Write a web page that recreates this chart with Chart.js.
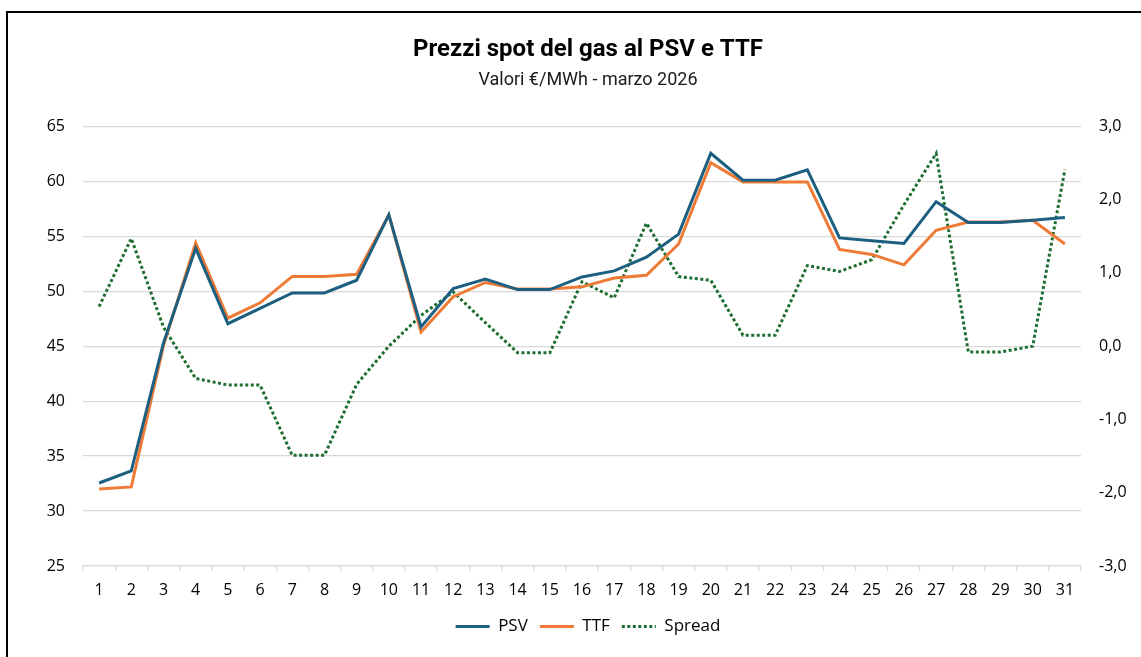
<!DOCTYPE html>
<html>
<head>
<meta charset="utf-8">
<script src="https://cdn.jsdelivr.net/npm/chart.js@4.4.1/dist/chart.umd.min.js"></script>
<style>
  body { margin: 0; background: #fff; overflow: hidden; }
  #wrap { position: relative; width: 1141px; height: 657px; }
  #frame { position: absolute; left: 6px; top: 11px; width: 1300px; height: 800px; border: 2px solid #000; pointer-events: none; }
</style>
</head>
<body>
<div id="wrap">
  <canvas id="gasChart" width="1141" height="657"></canvas>
  <div id="frame"></div>
</div>
<script>
// giorni di marzo 2026
const days = ['1','2','3','4','5','6','7','8','9','10','11','12','13','14','15','16','17','18','19','20','21','22','23','24','25','26','27','28','29','30','31'];

const psv = [32.55, 33.65, 45.3, 53.9, 47.05, 48.45, 49.85, 49.85, 51.0, 56.95, 46.75, 50.25, 51.1, 50.15, 50.15, 51.3, 51.85, 53.1, 55.2, 62.55, 60.1, 60.1, 61.05, 54.85, 54.6, 54.35, 58.15, 56.25, 56.25, 56.45, 56.7];
const ttf = [32.0, 32.2, 45.05, 54.4, 47.55, 48.95, 51.35, 51.35, 51.55, 56.95, 46.3, 49.5, 50.8, 50.2, 50.2, 50.4, 51.2, 51.45, 54.3, 61.7, 59.95, 59.95, 59.95, 53.8, 53.35, 52.4, 55.55, 56.3, 56.3, 56.45, 54.3];
const spread = [0.54, 1.47, 0.26, -0.44, -0.53, -0.53, -1.49, -1.49, -0.52, 0.0, 0.42, 0.74, 0.32, -0.09, -0.09, 0.88, 0.66, 1.68, 0.95, 0.9, 0.15, 0.15, 1.1, 1.02, 1.18, 1.93, 2.63, -0.08, -0.08, 0.0, 2.41];

const gridColor = '#d9d9d9';
const tickFont = { family: "'Open Sans', sans-serif", size: 16 };

const ctx = document.getElementById('gasChart').getContext('2d');
new Chart(ctx, {
    type: 'line',
    data: {
        labels: days,
        datasets: [
            {
                label: 'PSV',
                data: psv,
                yAxisID: 'y',
                borderColor: '#1d5f80',
                backgroundColor: '#1d5f80',
                borderWidth: 3,
                pointRadius: 0,
                tension: 0
            },
            {
                label: 'TTF',
                data: ttf,
                yAxisID: 'y',
                borderColor: '#ee7a35',
                backgroundColor: '#ee7a35',
                borderWidth: 3,
                pointRadius: 0,
                tension: 0
            },
            {
                label: 'Spread',
                data: spread,
                yAxisID: 'y1',
                borderColor: '#1e6e31',
                backgroundColor: '#1e6e31',
                borderWidth: 3,
                borderDash: [3, 2.5],
                pointRadius: 0,
                tension: 0
            }
        ]
    },
    options: {
        responsive: false,
        animation: false,
        devicePixelRatio: 1,
        layout: {
            padding: { left: 35, right: 0, top: 0, bottom: 12 }
        },
        plugins: {
            title: {
                display: true,
                text: 'Prezzi spot del gas al PSV e TTF',
                color: '#000',
                font: { family: "Roboto, sans-serif", size: 24, weight: 'bold' },
                padding: { top: 36, bottom: 2 }
            },
            subtitle: {
                display: true,
                text: 'Valori €/MWh - marzo 2026',
                color: '#1a1a1a',
                font: { family: "Roboto, sans-serif", size: 18 },
                padding: { top: 3, bottom: 35 }
            },
            legend: {
                position: 'bottom',
                labels: {
                    color: '#000',
                    font: { family: "'Open Sans', sans-serif", size: 17 },
                    usePointStyle: true,
                    pointStyleWidth: 34,
                    boxHeight: 3,
                    padding: 12,
                    generateLabels: (chart) => chart.data.datasets.map((ds, i) => ({
                        text: ds.label,
                        fillStyle: ds.borderColor,
                        strokeStyle: ds.borderColor,
                        lineWidth: 3,
                        lineDash: ds.borderDash || [],
                        pointStyle: 'line',
                        fontColor: '#000',
                        hidden: false,
                        datasetIndex: i
                    }))
                }
            },
            tooltip: { enabled: false }
        },
        scales: {
            x: {
                offset: true,
                grid: { display: true, drawOnChartArea: false, drawTicks: true, tickLength: 5, offset: true, color: gridColor, lineWidth: 1.3 },
                border: { display: true, color: gridColor, width: 1.3 },
                ticks: { color: '#000', font: tickFont, padding: 10, maxRotation: 0, autoSkip: false },
                afterFit: (scale) => { scale.height = 40; }
            },
            y: {
                position: 'left',
                min: 25,
                max: 65,
                grid: { color: gridColor, lineWidth: 1.3, drawTicks: false },
                border: { display: false },
                ticks: { stepSize: 5, color: '#000', font: tickFont, padding: 18 },
                afterFit: (scale) => { scale.width = 48; }
            },
            y1: {
                position: 'right',
                min: -3,
                max: 3,
                grid: { drawOnChartArea: false, drawTicks: false },
                border: { display: false },
                ticks: {
                    stepSize: 1,
                    color: '#000',
                    font: tickFont,
                    padding: 18,
                    callback: (v) => v.toFixed(1).replace('.', ',')
                },
                afterFit: (scale) => { scale.width = 60; }
            }
        }
    }
});
</script>
</body>
</html>
